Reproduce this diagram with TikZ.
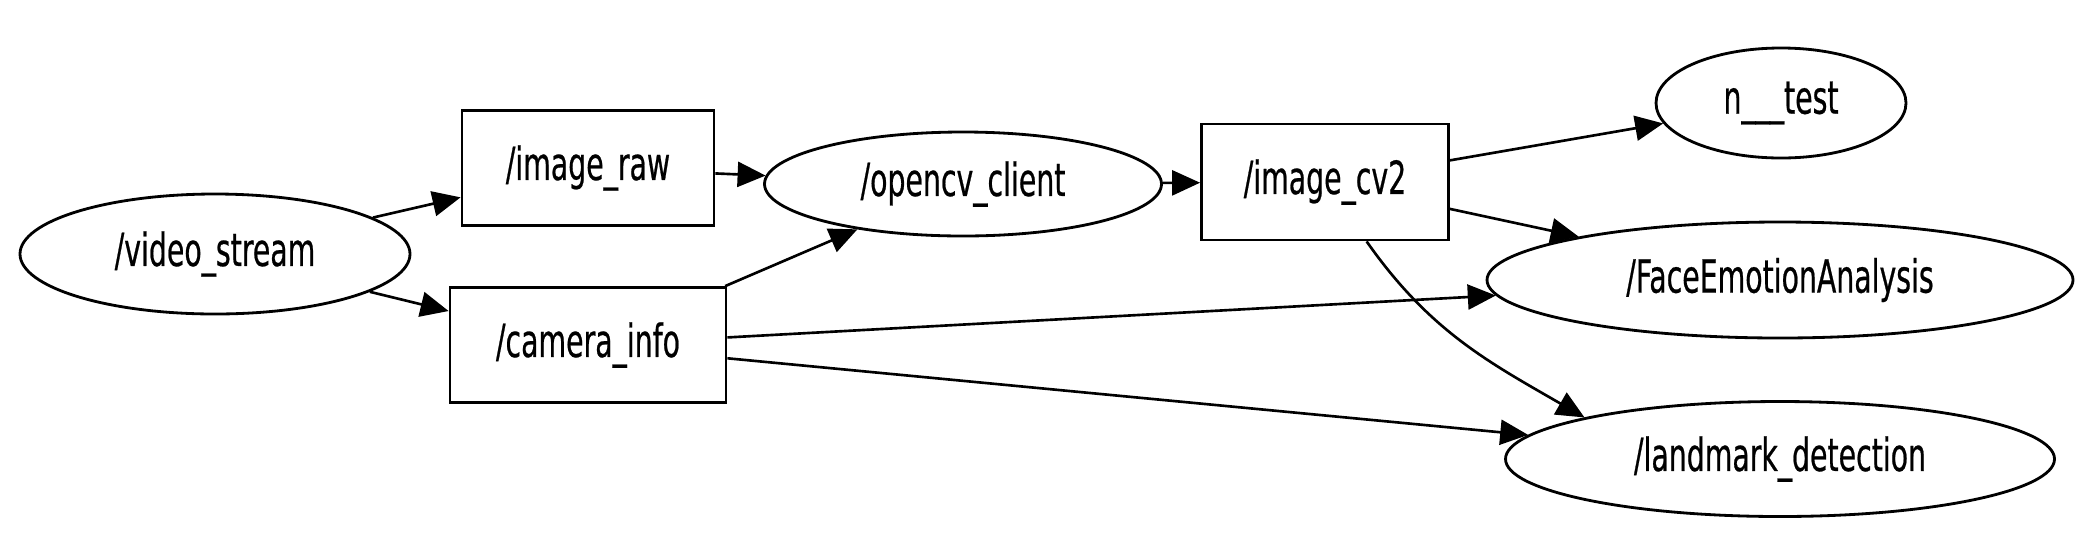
\documentclass[tikz,border=0pt]{standalone}
\usepackage{fontspec}
\setmainfont{DejaVu Sans Condensed}[FakeStretch=0.69, FakeBold=0.5]
\usetikzlibrary{arrows.meta,shapes.geometric}
\begin{document}
\begin{tikzpicture}[
    every node/.style={font=\fontsize{13pt}{15pt}\selectfont, line width=0.8pt},
    topic/.style={draw, rectangle, minimum height=1.15cm},
    rosnode/.style={draw, ellipse, inner sep=0pt},
    edge/.style={-{Triangle[length=0.28cm, width=0.25cm]}, line width=0.75pt}]
  \useasboundingbox (0,0) rectangle (20.88,5.56);
  % nodes
  \node[rosnode, minimum width=3.9cm, minimum height=1.2cm] (vs) at (2.15,3.02) {/video\_stream};
  \node[topic, minimum width=2.52cm] (raw) at (5.88,3.88) {/image\_raw};
  \node[topic, minimum width=2.76cm] (cam) at (5.88,2.11) {/camera\_info};
  \node[rosnode, minimum width=3.97cm, minimum height=1.04cm] (cv) at (9.63,3.72) {/opencv\_client};
  \node[topic, minimum width=2.47cm, minimum height=1.16cm] (cv2) at (13.25,3.74) {/image\_cv2};
  \node[rosnode, minimum width=2.5cm, minimum height=1.1cm] (test) at (17.81,4.53) {n\_\_\_test};
  \node[rosnode, minimum width=5.86cm, minimum height=1.16cm] (fea) at (17.80,2.76) {/FaceEmotionAnalysis};
  \node[rosnode, minimum width=5.49cm, minimum height=1.15cm] (lmk) at (17.80,0.97) {/landmark\_detection};
  % edges
  \draw[edge] (vs) -- (raw);
  \draw[edge] (vs) -- (cam);
  \draw[edge] (raw) -- (cv);
  \draw[edge] (cam) -- (cv);
  \draw[edge] (cv) -- (cv2);
  \draw[edge] (cv2) -- (test);
  \draw[edge] (cv2) -- (fea);
  \draw[edge] (cv2.-55) to[out=-55, in=150] (lmk.168);
  \draw[edge] (cam) -- (fea);
  \draw[edge] (cam) -- (lmk);
\end{tikzpicture}
\end{document}
